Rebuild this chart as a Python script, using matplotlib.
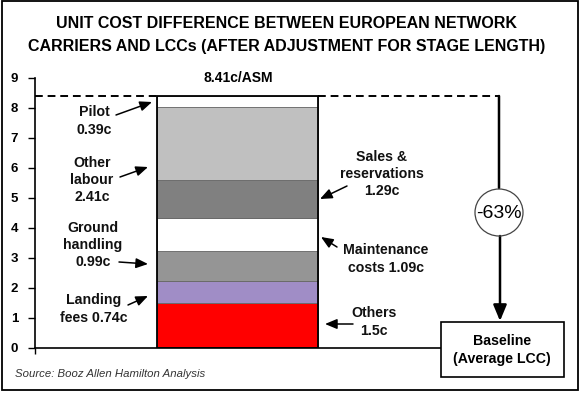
import matplotlib.pyplot as plt
import numpy as np
from matplotlib.patches import Rectangle, Ellipse
from matplotlib.transforms import Affine2D

plt.rcParams['font.family'] = ['Liberation Sans', 'DejaVu Sans']

# cost components, bottom to top (c/ASM)
componentes = ['Others', 'Landing fees', 'Ground handling', 'Maintenance costs',
               'Sales & reservations', 'Other labour', 'Pilot']
valores = [1.5, 0.74, 0.99, 1.09, 1.29, 2.41, 0.39]
colores = ['#ff0000', '#a08dc6', '#959595', '#ffffff', '#808080', '#c0c0c0', '#ffffff']
etiquetas = ['Others\n1.5c', 'Landing\nfees 0.74c', 'Ground\nhandling\n0.99c',
             'Maintenance\ncosts 1.09c', 'Sales &\nreservations\n1.29c',
             'Other\nlabour\n2.41c', 'Pilot\n0.39c']
total = sum(valores)
reduccion = '-63%'

W, H = 583, 393
fig = plt.figure(figsize=(W / 100, H / 100), dpi=100)
# transform in image pixels (origin top-left)
pix = Affine2D().scale(1 / W, -1 / H).translate(0, 1) + fig.transFigure

# axes: y=0 at 348px, y=9 at 78px, x data = pixels
ax = fig.add_axes([35 / W, (H - 348) / H, (578 - 35) / W, (348 - 78) / H])
ax.set_xlim(35, 578)
ax.set_ylim(0, 9)
ax.patch.set_alpha(0)

bases = np.concatenate([[0], np.cumsum(valores)[:-1]])
ax.bar(237.5, valores, bottom=bases, width=161, color=colores,
       edgecolor='#666666', linewidth=0.6, zorder=2)
ax.add_patch(Rectangle((157, 0), 161, total, fill=False, edgecolor='k', lw=1.3, zorder=3))

# dashed line at top of bar
ax.hlines(total, 35, 157, colors='k', linestyles=(0, (4, 2.5)), lw=1.4, zorder=3)
ax.hlines(total, 318, 499, colors='k', linestyles=(0, (4, 2.5)), lw=1.4, zorder=3)

for s in ['top', 'right']:
    ax.spines[s].set_visible(False)
ax.spines['left'].set_linewidth(1.2)
ax.spines['bottom'].set_linewidth(1.2)
ax.spines['bottom'].set_bounds(35, 441)
ax.set_yticks(range(10))
ax.set_yticklabels([str(i) for i in range(10)], fontsize=9.5, fontweight='bold')
ax.tick_params(axis='y', length=5, width=1, pad=7)
ax.set_xticks([35])
ax.set_xticklabels([''])
ax.tick_params(axis='x', length=4, width=1)

# outer frame
fig.patches.append(Rectangle((2 / W, 1 - 390 / H), 576 / W, 389 / H, fill=False,
                             edgecolor='k', lw=1.3, transform=fig.transFigure))

# title
fig.text(287, 24, 'UNIT COST DIFFERENCE BETWEEN EUROPEAN NETWORK', transform=pix,
         ha='center', va='center', fontsize=11.5, fontweight='bold')
fig.text(287, 46, 'CARRIERS AND LCCs (AFTER ADJUSTMENT FOR STAGE LENGTH)', transform=pix,
         ha='center', va='center', fontsize=11.5, fontweight='bold')

fig.text(238, 78, '8.41c/ASM', transform=pix, ha='center', va='center',
         fontsize=10, fontweight='bold')

# label positions (px) and arrow ends (px)
pos_texto = [(374, 322), (94, 309), (93, 245), (386, 259), (382, 174), (92, 180), (94, 121)]
flecha_ini = [(353, 324), (128, 305), (119, 262), (337, 247), (347, 186), (120, 177), (116, 115)]
flecha_fin = [(325, 324), (148, 296), (148, 264), (321, 237), (320, 199), (148, 167), (152, 102)]

for txt, p, a0, a1 in zip(etiquetas, pos_texto, flecha_ini, flecha_fin):
    fig.text(p[0], p[1], txt, transform=pix, ha='center', va='center',
             fontsize=10.2, fontweight='bold', linespacing=1.28, color='#111111')
    ax.annotate('', xy=a1, xycoords=pix, xytext=a0, textcoords=pix,
                arrowprops=dict(arrowstyle='-|>,head_length=0.6,head_width=0.25',
                                color='k', lw=1.1, mutation_scale=12,
                                shrinkA=0, shrinkB=0))

# -63% reduction indicator
ax.annotate('', xy=(499, 188), xycoords=pix, xytext=(499, 96), textcoords=pix,
            arrowprops=dict(arrowstyle='-', color='k', lw=1.8, shrinkA=0, shrinkB=0))
ax.annotate('', xy=(500, 321), xycoords=pix, xytext=(500, 236), textcoords=pix,
            arrowprops=dict(arrowstyle='-|>,head_length=0.6,head_width=0.25', color='k',
                            lw=1.8, mutation_scale=16, shrinkA=0, shrinkB=0))
fig.patches.append(Ellipse((499, 212.5), 48, 47, fill=False, edgecolor='#444444',
                           lw=0.9, transform=pix))
fig.text(499, 213, reduccion, transform=pix, ha='center', va='center', fontsize=14)

# baseline box
fig.patches.append(Rectangle((441, 377), 123, -55, fill=True, facecolor='white',
                             edgecolor='k', lw=1.2, transform=pix))
fig.text(502, 350, 'Baseline\n(Average LCC)', transform=pix, ha='center', va='center',
         fontsize=10.2, fontweight='bold', linespacing=1.28)

fig.text(15, 374, 'Source: Booz Allen Hamilton Analysis', transform=pix, ha='left',
         va='center', fontsize=8.2, fontstyle='italic', color='#333333')

plt.savefig('out.png', dpi=100)
